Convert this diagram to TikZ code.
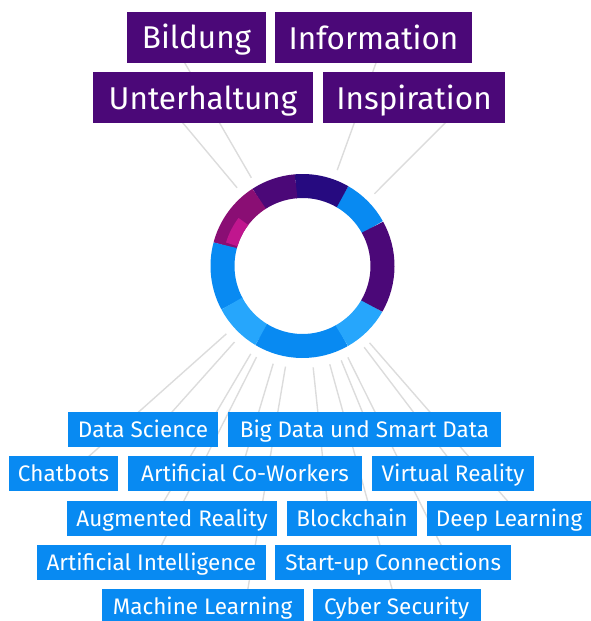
\documentclass[tikz,border=0pt]{standalone}
\usepackage{fontspec}
\setmainfont{Fira Sans}
\usepackage{tikz}
\usetikzlibrary{calc,backgrounds}

\definecolor{topicpurple}{RGB}{75,8,120}
\definecolor{techblue}{RGB}{8,138,242}
\definecolor{paleblue}{RGB}{38,166,252}
\definecolor{navy}{RGB}{38,10,128}
\definecolor{plum}{RGB}{138,14,116}
\definecolor{rose}{RGB}{192,22,142}
\definecolor{spokegray}{RGB}{220,220,220}

\begin{document}
\begin{tikzpicture}[x=1pt, y=1pt,
  topic/.style={fill=topicpurple, text=white, inner sep=0pt, minimum height=51pt,
    font=\fontsize{31.5}{32}\selectfont, text height=23pt, text depth=0pt},
  tech/.style={fill=techblue, text=white, inner sep=0pt, minimum height=35pt,
    font=\fontsize{22.5}{23}\selectfont, text height=16pt, text depth=0pt},
  spoke/.style={draw=spokegray, line width=1.4pt}]
  \useasboundingbox (0,0) rectangle (590,-621);

  % top row: topics
  \node[topic, minimum width=139pt] (bild) at (196.5,-37) {Bildung};
  \node[topic, minimum width=197pt] (info) at (373.5,-37.5) {Information};
  \node[topic, minimum width=220pt] (unter) at (203,-97.5) {Unterhaltung};
  \node[topic, minimum width=182pt] (insp) at (414,-97.5) {Inspiration};

  % bottom rows: technologies
  \node[tech, minimum width=150pt] (ds) at (143,-429) {Data Science};
  \node[tech, minimum width=273pt] (bigdata) at (364.5,-429) {Big Data und Smart Data};
  \node[tech, minimum width=109pt] (chat) at (63.5,-473.5) {Chatbots};
  \node[tech, minimum width=234pt] (cowork) at (245,-473.5) {Artificial Co-Workers};
  \node[tech, minimum width=162pt] (vr) at (453,-473.5) {Virtual Reality};
  \node[tech, minimum width=210pt] (ar) at (172,-518) {Augmented Reality};
  \node[tech, minimum width=130pt] (chain) at (352,-518) {Blockchain};
  \node[tech, minimum width=164pt] (deep) at (509,-518) {Deep Learning};
  \node[tech, minimum width=229pt] (ai) at (151.3,-562.5) {Artificial Intelligence};
  \node[tech, minimum width=236pt] (startup) at (393.2,-562.5) {Start-up Connections};
  \node[tech, minimum width=202pt] (ml) at (202.5,-606.8) {Machine Learning};
  \node[tech, minimum width=168pt] (cyber) at (396.7,-606.8) {Cyber Security};

  % ring
  \coordinate (c) at (302.5,-266);
  \foreach \a/\b/\col in {29/60.3/techblue, 60/94.9/navy, 94.6/123.1/topicpurple,
      122.8/165.3/plum, 165/208.3/techblue, 208/239.3/paleblue,
      239/299.7/techblue, 299.4/330.3/paleblue, 330/389/topicpurple}
    \draw[\col, line width=24pt] (c) ++(\a:80) arc[start angle=\a, end angle=\b, radius=80];
  \draw[rose, line width=12pt] (c) ++(143:74) arc[start angle=143, end angle=163, radius=74];

  % spokes
  \foreach \n/\a in {t1/129.9, t2/120.1, t3/70.1, t4/45.1,
      s1/-138.3, s2/-131.8, s3/-120.5, s4/-116.8, s5/-106.7, s6/-99.6,
      s7/-84, s8/-74.5, s9/-67.7, s10/-63.6, s11/-52.8, s12/-48.9}
    \path (c) ++(\a:102) coordinate (\n);
  \begin{scope}[on background layer]
    \foreach \n/\b in {t1/unter, t2/bild, t3/info, t4/insp,
        s1/chat, s2/ds, s3/ar, s4/ai, s5/cowork, s6/ml,
        s7/chain, s8/cyber, s9/bigdata, s10/startup, s11/vr, s12/deep}
      \draw[spoke] (\n) -- (intersection cs: first line={(c)--(\n)},
                                          second line={(\b.west)--(\b.east)});
  \end{scope}
\end{tikzpicture}
\end{document}
